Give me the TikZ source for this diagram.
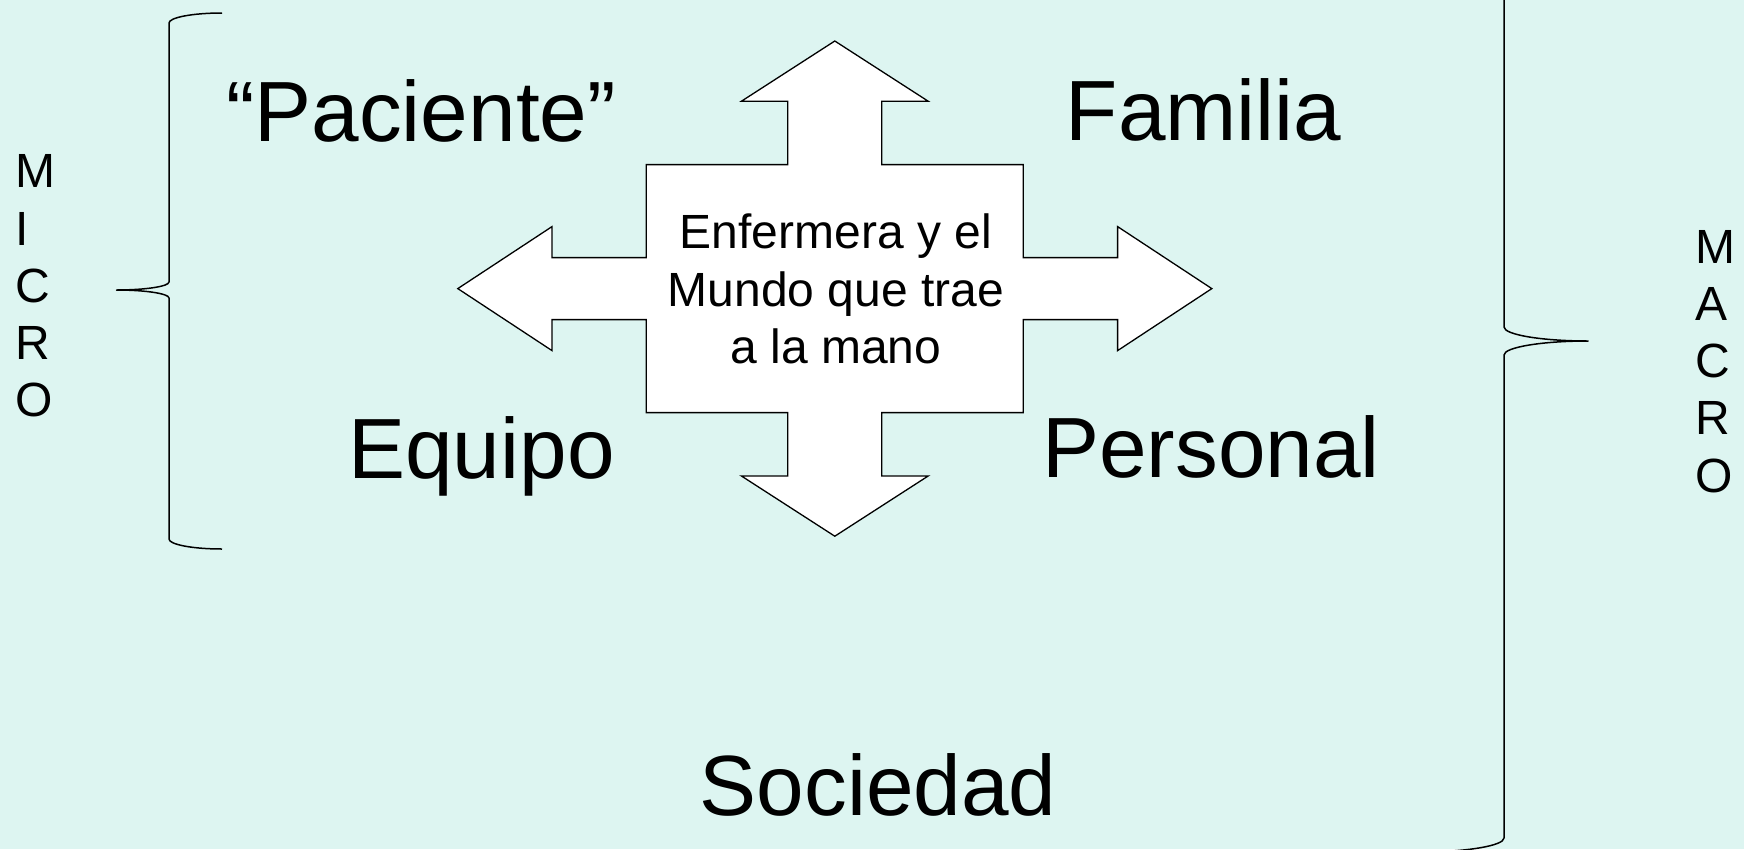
\documentclass[tikz,border=0pt]{standalone}
\usepackage{fontspec}
\setmainfont{Liberation Sans}
\definecolor{bgteal}{RGB}{221,245,241}
\begin{document}
\begin{tikzpicture}[x=1pt,y=-1pt,
  bigword/.style={anchor=base,inner sep=0pt,font=\fontsize{85.5}{100}\selectfont},
  sideword/.style={anchor=west,inner sep=0pt,align=left,font=\fontsize{48}{57.2}\selectfont},
  centertext/.style={align=center,inner sep=0pt,font=\fontsize{48}{57.5}\selectfont},
  brace/.style={line width=1.5pt,line join=round},
  cross/.style={draw=black,fill=white,line width=1.3pt,line join=miter}]
\useasboundingbox (0,0) rectangle (1744,849);
\clip (0,0) rectangle (1744,849);
\fill[bgteal] (0,0) rectangle (1744,849);

% left brace (MICRO)
\draw[brace] (222,13) .. controls (192.7,13) and (169,17.5) .. (169,23)
  -- (169,282)
  .. controls (169,286.4) and (145.3,290) .. (116.5,290)
  .. controls (145.3,290) and (169,293.6) .. (169,298)
  -- (169,539)
  .. controls (169,544.5) and (192.7,549) .. (222,549);

% right brace (MACRO)
\draw[brace] (1420,-170) .. controls (1466.4,-170) and (1504,-162.3) .. (1504,-156)
  -- (1504,327)
  .. controls (1504,334.7) and (1541.6,341) .. (1588,341)
  .. controls (1541.6,341) and (1504,347.3) .. (1504,355)
  -- (1504,838)
  .. controls (1504,845.7) and (1466.4,852) .. (1420,852);

% four-way arrow
\begin{scope}[shift={(834.8,288.6)}]
\draw[cross] (0,-247.6) -- (93.5,-187.3) -- (47,-187.3) -- (47,-124) -- (188.5,-124)
  -- (188.5,-31) -- (282.8,-31) -- (282.8,-62) -- (377,0) -- (282.8,62) -- (282.8,31)
  -- (188.5,31) -- (188.5,124) -- (47,124) -- (47,187.3) -- (93.5,187.3) -- (0,247.6)
  -- (-93.5,187.3) -- (-47,187.3) -- (-47,124) -- (-188.5,124) -- (-188.5,31)
  -- (-282.8,31) -- (-282.8,62) -- (-377,0) -- (-282.8,-62) -- (-282.8,-31)
  -- (-188.5,-31) -- (-188.5,-124) -- (-47,-124) -- (-47,-187.3) -- (-93.5,-187.3) -- cycle;
\end{scope}

\node[centertext] (enfermera) at (835.8,289.3) {Enfermera y el\\Mundo que trae\\a la mano};

\node[bigword] (paciente) at (421,141.5) {“Paciente”};
\node[bigword] (familia) at (1203.7,140.7) {Familia};
\node[bigword] (equipo) at (481.5,478) {Equipo};
\node[bigword] (personal) at (1211,477.5) {Personal};
\node[bigword] (sociedad) at (878,815.7) {Sociedad};

\node[sideword] (micro) at (15,286) {M\\I\\C\\R\\O};
\node[sideword] (macro) at (1695,361.5) {M\\A\\C\\R\\O};
\end{tikzpicture}
\end{document}
